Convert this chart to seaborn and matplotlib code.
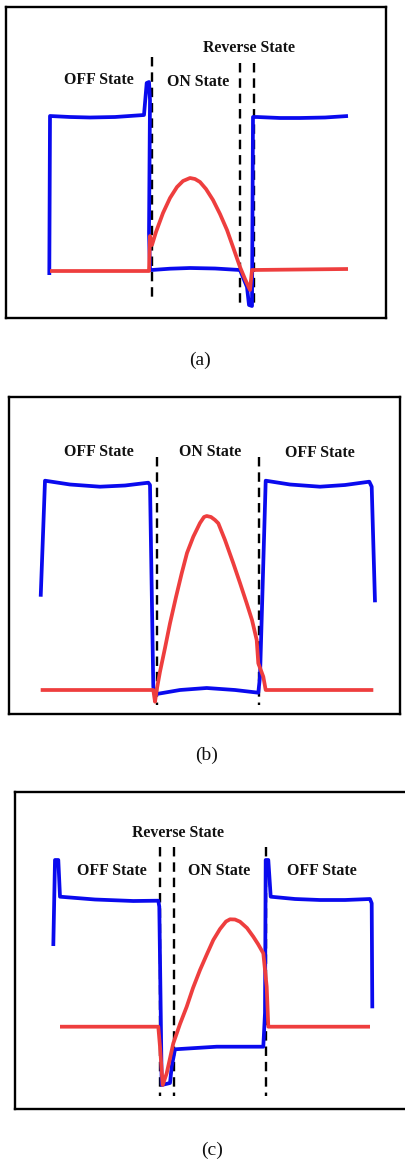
import matplotlib
matplotlib.use("Agg")
import matplotlib.pyplot as plt
import seaborn as sns
import pandas as pd

sns.set_theme(style="white")
plt.rcParams['font.family'] = ['Liberation Serif', 'DejaVu Serif']

W, H = 405, 1161

# ---------- Panel (a) ----------
a_frame = (6, 386, 7, 318)  # left, right, top, bottom (px)
a_blue_x = [49.3, 50, 70, 90, 115, 144, 146.7, 149, 150, 149, 150, 151.7, 170, 190, 215, 240,
            247, 249, 252, 253, 257, 280, 300, 325, 348]
a_blue_y = [275, 116, 117, 117.5, 117, 115, 83, 82, 100, 233, 270, 270, 268.7, 268, 268.5, 270,
            287, 305, 306, 117, 117, 118, 118, 117.5, 116]
a_red_x = [50, 147, 149, 150, 152, 156, 163, 170, 177, 183, 190, 195, 200, 206, 213, 220, 227,
           233, 240, 245, 250, 252, 348]
a_red_y = [271, 271, 271, 236, 245, 232, 213, 198, 187, 181, 178, 179, 182, 189, 200, 214, 230,
           247, 267, 279, 290, 270, 269]
a_dash_x = [152, 240, 254]
a_dash_y = [(57, 302), (63, 307), (63, 307)]
a_labels = ["OFF State", "ON State", "Reverse State"]
a_label_xy = [(99, 80), (198, 82), (249, 48)]

# ---------- Panel (b) ----------
b_frame = (9, 400, 397, 714)
b_blue_x = [40.7, 43.3, 45, 70, 100, 125, 148.3, 150, 153.3, 154.3, 156.7, 180, 206.7, 235,
            258.3, 260, 265.7, 290, 320, 345, 369.3, 371.7, 375]
b_blue_y = [596.7, 526.7, 480.7, 484.5, 486.7, 485.5, 482.7, 485, 686.7, 693.3, 694, 690, 688, 690,
            692.7, 676.7, 480.7, 484.5, 486.7, 485, 481.7, 486.7, 602.3]
b_red_x = [40.7, 153.3, 155, 156.7, 160, 165, 170, 176, 181.7, 187, 193.3, 200, 204, 206.7, 211,
           215, 218.3, 225, 233.3, 240, 246.7, 252, 256.7, 258.3, 263.3, 265.7, 373.3]
b_red_y = [690, 690, 701.7, 690, 671.7, 648, 623.3, 597, 573.3, 553, 536.7, 523, 517, 516, 517,
           520, 523.3, 540, 563.3, 583, 603.3, 620, 640, 663.3, 676.7, 690, 690]
b_dash_x = [156.7, 259]
b_dash_y = [(456.7, 705), (456.7, 705)]
b_labels = ["OFF State", "ON State", "OFF State"]
b_label_xy = [(99, 451.7), (210, 452.3), (320, 452.7)]

# ---------- Panel (c) ----------
c_frame = (15, 408, 792, 1109)
c_blue_x = [53.3, 55, 58.3, 60, 95, 133.3, 158.3, 159.3, 161.7, 170, 171.7, 175, 216.7, 263.3,
            265, 265.7, 268.3, 270.7, 295, 320, 345, 370, 371.7, 372.3]
c_blue_y = [946, 860, 860, 896.7, 899.5, 901, 900.7, 906.7, 1085, 1083, 1066.7, 1049.3, 1046.7,
            1046.7, 1013, 860, 860, 896.7, 899, 900, 900, 899, 903.3, 1008.3]
c_red_x = [60, 158.3, 160, 162.7, 166.7, 173.3, 180, 186.7, 193, 200, 207, 213.3, 220, 226, 230,
           235, 240, 247, 253.3, 258, 263.3, 266.7, 268.3, 370]
c_red_y = [1026.7, 1026.7, 1046.7, 1085, 1073.3, 1043.3, 1024, 1006.7, 988, 970, 954, 940, 929,
           921.5, 919.3, 919.5, 921.7, 928, 936.7, 944, 953.3, 986.7, 1026.7, 1026.7]
c_dash_x = [160, 174, 266]
c_dash_y = [(846.7, 1096), (846.7, 1096), (846.7, 1096)]
c_labels = ["Reverse State", "OFF State", "ON State", "OFF State"]
c_label_xy = [(178.3, 832.7), (111.7, 870.7), (219, 870.7), (322.3, 870.7)]

captions = ["(a)", "(b)", "(c)"]
caption_xy = [(200, 360), (206.7, 755.7), (211.7, 1150)]

BLUE = "#0a0aee"
RED = "#ee3e3e"

fig = plt.figure(figsize=(W / 100, H / 100), dpi=100)
fig.patch.set_facecolor("white")

panels = [
    (a_frame, a_blue_x, a_blue_y, a_red_x, a_red_y, a_dash_x, a_dash_y, a_labels, a_label_xy),
    (b_frame, b_blue_x, b_blue_y, b_red_x, b_red_y, b_dash_x, b_dash_y, b_labels, b_label_xy),
    (c_frame, c_blue_x, c_blue_y, c_red_x, c_red_y, c_dash_x, c_dash_y, c_labels, c_label_xy),
]

for frame, bx, by, rx, ry, dx, dy, labels, lxy in panels:
    l, r, t, b = frame
    ax = fig.add_axes([l / W, 1 - b / H, (r - l) / W, (b - t) / H])
    ax.set_facecolor("white")
    for x, (y0, y1) in zip(dx, dy):
        ax.plot([x, x], [y0, y1], color="black", lw=1.7, dashes=(4, 2.5), zorder=1)
    sns.lineplot(data=pd.DataFrame({"x": bx, "y": by}), x="x", y="y", sort=False,
                 estimator=None, color=BLUE, lw=2.7, ax=ax, zorder=2,
                 solid_joinstyle="round", solid_capstyle="butt")
    sns.lineplot(data=pd.DataFrame({"x": rx, "y": ry}), x="x", y="y", sort=False,
                 estimator=None, color=RED, lw=2.7, ax=ax, zorder=3,
                 solid_joinstyle="round", solid_capstyle="butt")
    for txt, (x, y) in zip(labels, lxy):
        ax.text(x, y, txt, ha="center", va="center", fontsize=11.4,
                fontweight="bold", color="#111111")
    ax.set_xlim(l, r)
    ax.set_ylim(b, t)
    ax.set_xticks([])
    ax.set_yticks([])
    ax.set_xlabel("")
    ax.set_ylabel("")
    for s in ax.spines.values():
        s.set_visible(True)
        s.set_color("black")
        s.set_linewidth(1.7)

for txt, (x, y) in zip(captions, caption_xy):
    fig.text(x / W, 1 - y / H, txt, ha="center", va="center", fontsize=14, color="#111111")

fig.savefig("out.png", dpi=100, facecolor="white")
